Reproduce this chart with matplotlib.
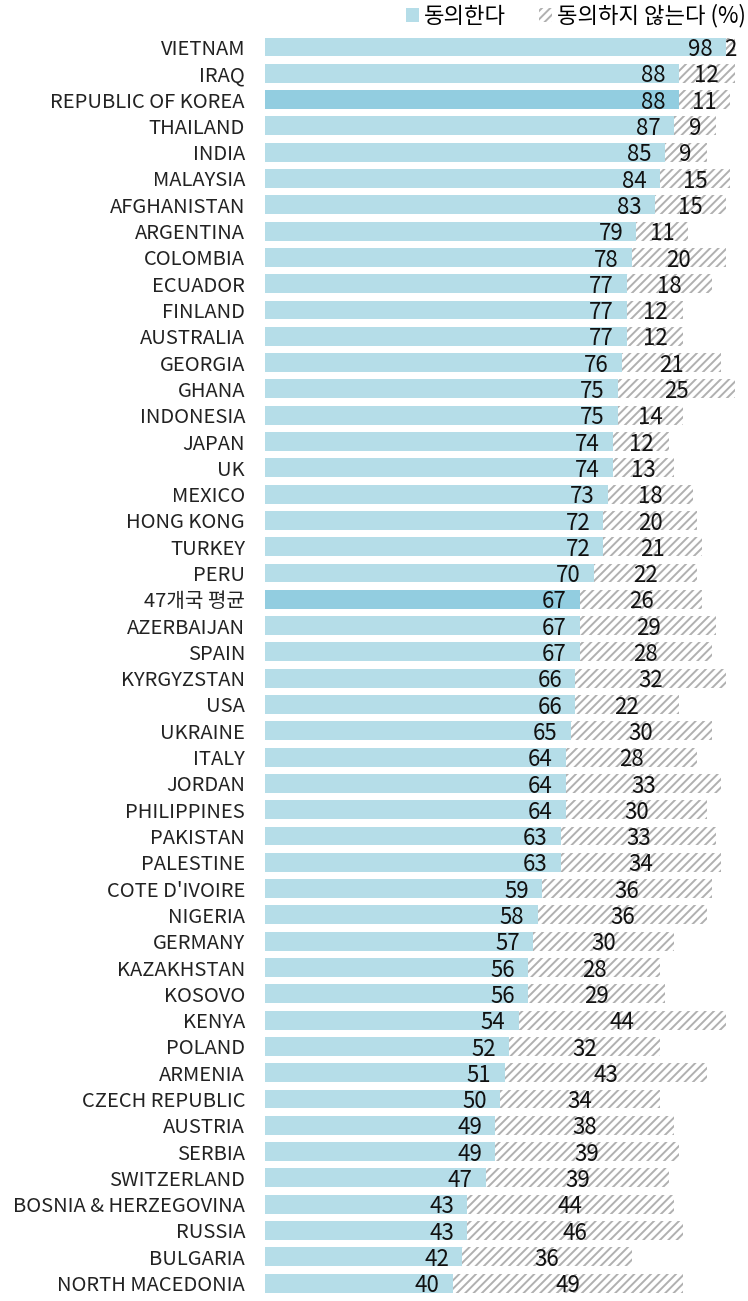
import numpy as np
import matplotlib
matplotlib.use('Agg')
import matplotlib.pyplot as plt
from matplotlib.patches import Patch

plt.rcParams['font.family'] = ['Noto Sans CJK KR', 'DejaVu Sans']
plt.rcParams['hatch.linewidth'] = 1.4

# Data (agree / disagree, %)
countries = [
    'VIETNAM', 'IRAQ', 'REPUBLIC OF KOREA', 'THAILAND', 'INDIA', 'MALAYSIA',
    'AFGHANISTAN', 'ARGENTINA', 'COLOMBIA', 'ECUADOR', 'FINLAND', 'AUSTRALIA',
    'GEORGIA', 'GHANA', 'INDONESIA', 'JAPAN', 'UK', 'MEXICO', 'HONG KONG',
    'TURKEY', 'PERU', '47개국 평균', 'AZERBAIJAN', 'SPAIN', 'KYRGYZSTAN', 'USA',
    'UKRAINE', 'ITALY', 'JORDAN', 'PHILIPPINES', 'PAKISTAN', 'PALESTINE',
    "COTE D'IVOIRE", 'NIGERIA', 'GERMANY', 'KAZAKHSTAN', 'KOSOVO', 'KENYA',
    'POLAND', 'ARMENIA', 'CZECH REPUBLIC', 'AUSTRIA', 'SERBIA', 'SWITZERLAND',
    'BOSNIA & HERZEGOVINA', 'RUSSIA', 'BULGARIA', 'NORTH MACEDONIA',
]
agree = [98, 88, 88, 87, 85, 84, 83, 79, 78, 77, 77, 77, 76, 75, 75, 74, 74,
         73, 72, 72, 70, 67, 67, 67, 66, 66, 65, 64, 64, 64, 63, 63, 59, 58,
         57, 56, 56, 54, 52, 51, 50, 49, 49, 47, 43, 43, 42, 40]
disagree = [2, 12, 11, 9, 9, 15, 15, 11, 20, 18, 12, 12, 21, 25, 14, 12, 13,
            18, 20, 21, 22, 26, 29, 28, 32, 22, 30, 28, 33, 30, 33, 34, 36, 36,
            30, 28, 29, 44, 32, 43, 34, 38, 39, 39, 44, 46, 36, 49]
highlight = ['REPUBLIC OF KOREA', '47개국 평균']

LIGHT = '#b5dde8'
DARK = '#92cde0'
HATCH = '#b0b0b0'

W, H = 748, 1301
fig = plt.figure(figsize=(W / 100, H / 100), dpi=100)
n = len(countries)
row = 26.3
top = 47 - row / 2
bottom = top + n * row
ax = fig.add_axes([265 / W, 1 - bottom / H, (W - 265) / W, (bottom - top) / H])

y = np.arange(n)
colors = [DARK if c in highlight else LIGHT for c in countries]
ax.barh(y, agree, height=0.72, color=colors, linewidth=0)
ax.barh(y, disagree, left=agree, height=0.72, facecolor='white',
        edgecolor=HATCH, hatch='////', linewidth=0)

for i in range(n):
    ax.text(agree[i] - 2.8, y[i] + 0.1, str(agree[i]), ha='right', va='center',
            fontsize=16, color='#111111')
    ax.text(agree[i] + disagree[i] / 2, y[i] + 0.1, str(disagree[i]),
            ha='center', va='center', fontsize=16, color='#111111')

ax.set_xlim(0, (W - 265) / 4.7)
ax.set_ylim(n - 0.5, -0.5)
ax.set_yticks(y)
ax.set_yticklabels(countries, fontsize=14.5, color='#222222')
ax.tick_params(axis='y', length=0, pad=14.4)
ax.set_xticks([])
for s in ax.spines.values():
    s.set_visible(False)

handles = [Patch(facecolor=LIGHT, linewidth=0),
           Patch(facecolor='white', edgecolor=HATCH, hatch='////', linewidth=0)]
fig.legend(handles, ['동의한다', '동의하지 않는다 (%)'], loc='upper right',
           bbox_to_anchor=(0.997, 0.997), ncol=2, frameon=False, fontsize=16,
           handlelength=0.6, handleheight=0.6, handletextpad=0.2,
           columnspacing=1.5, borderpad=0, borderaxespad=0)

fig.savefig('out.png', dpi=100)
